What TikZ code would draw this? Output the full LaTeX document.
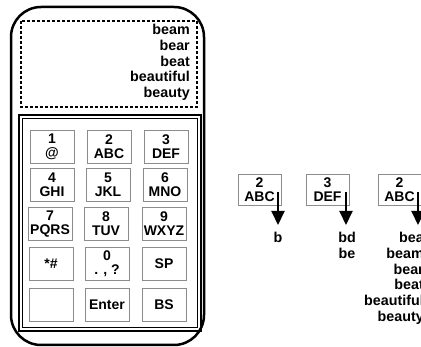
\documentclass[tikz,border=0pt]{standalone}
\usepackage{fontspec}
\setmainfont{Liberation Sans}
\usetikzlibrary{arrows.meta,calc}
\begin{document}
\begin{tikzpicture}[x=1pt,y=-1pt,
  keybox/.style={draw=black!45,line width=0.9pt,minimum width=44pt,minimum height=33pt,inner sep=0pt,align=center,font=\fontsize{14}{14}\selectfont\bfseries},
  rkey/.style={keybox,minimum width=43pt,minimum height=31pt},
  listtxt/.style={inner sep=0pt,font=\fontsize{14.3}{15.8}\selectfont\bfseries},
  downarrow/.style={line width=2pt,-{Triangle[length=14pt,width=13pt]}}]
\useasboundingbox (0,0) rectangle (421,347);
\clip (0,0) rectangle (421,347);
% phone body
\draw[line width=2.5pt,rounded corners=30pt] (11,7) rectangle (204,345);
% screen
\draw[line width=1.4pt,dash pattern=on 3pt off 2pt] (21,21) rectangle (197,107);
\node[listtxt,align=right,anchor=north east] (screen) at (190,24) {beam\\bear\\beat\\beautiful\\beauty};
% keypad frame
\draw[line width=2pt] (19,115) rectangle (201,331);
\draw[line width=1.2pt] (22.5,118.5) rectangle (197.5,327.5);
% keys
\node[keybox] (k1) at (52,146.5) {1\\@};
\node[keybox] (k2) at (109,146.5) {2\\ABC};
\node[keybox] (k3) at (166,146.5) {3\\DEF};
\node[keybox] (k4) at (52,185) {4\\GHI};
\node[keybox] (k5) at (108,185) {5\\JKL};
\node[keybox] (k6) at (165,185) {6\\MNO};
\node[keybox] (k7) at (50,224) {7\\PQRS};
\node[keybox] (k8) at (106,224) {8\\TUV};
\node[keybox] (k9) at (164,224) {9\\WXYZ};
\node[keybox] (k10) at (51,264) {*\#};
\node[keybox] (k11) at (107,264) {0\\. , ?};
\node[keybox] (k12) at (164,264) {SP};
\node[keybox] (k13) at (51,304.5) {};
\node[keybox] (k14) at (107,304.5) {Enter};
\node[keybox] (k15) at (164,304.5) {BS};
% right side sequence
\node[rkey] (r1) at (259.5,189.5) {2\\ABC};
\node[rkey] (r2) at (327.5,189.5) {3\\DEF};
\node[rkey] (r3) at (399.5,189.5) {2\\ABC};
\coordinate (s1) at (278,192);
\coordinate (s2) at (346,192);
\coordinate (s3) at (418,192);
\coordinate (e1) at (278,225);
\coordinate (e2) at (346,225);
\coordinate (e3) at (418,225);
\draw[downarrow] (s1) -- (e1);
\draw[downarrow] (s2) -- (e2);
\draw[downarrow] (s3) -- (e3);
\node[listtxt,anchor=north] (t1) at (278,232) {b};
\node[listtxt,align=center,anchor=north] (t2) at (347,232) {bd\\be};
\node[listtxt,align=right,anchor=north east] (t3) at (424,232) {bea\\beam\\bear\\beat\\beautiful\\beauty};
\end{tikzpicture}
\end{document}
